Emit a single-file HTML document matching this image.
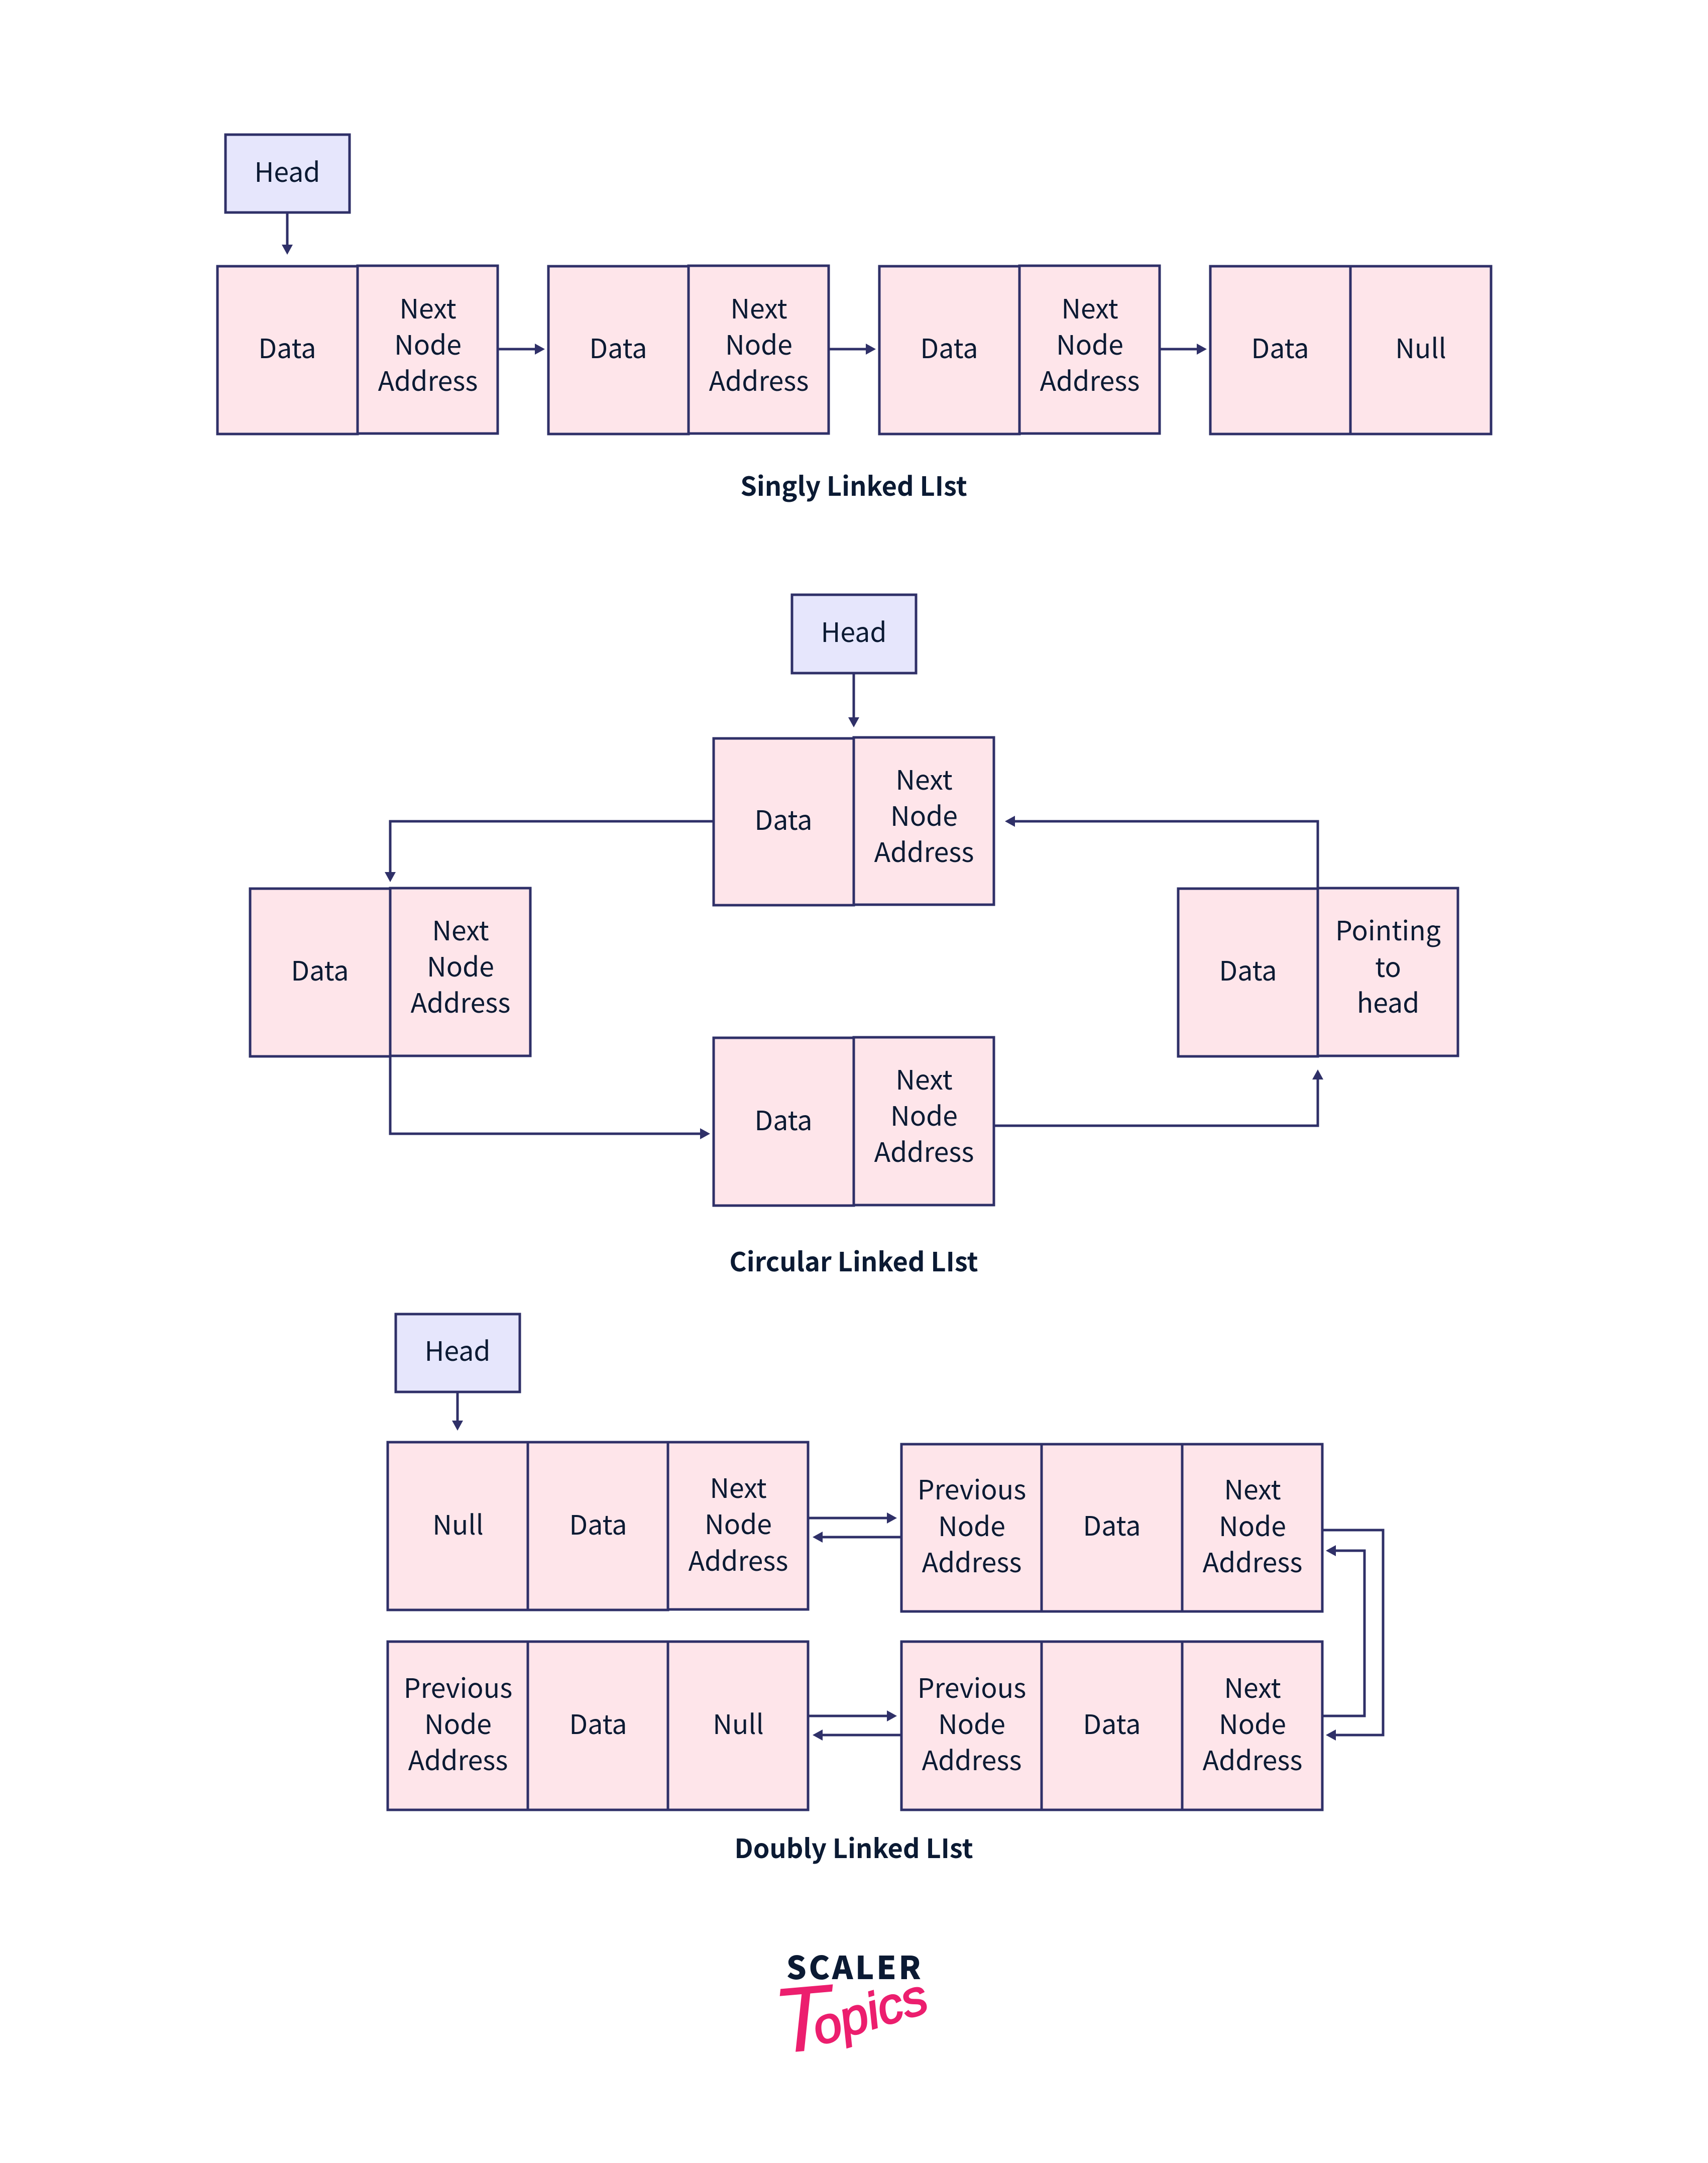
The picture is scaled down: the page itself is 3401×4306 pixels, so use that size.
<!DOCTYPE html>
<html lang="en"><head><meta charset="utf-8"><title>Linked Lists</title>
<style>
html,body{margin:0;padding:0;background:#fff}
svg{display:block}
.c{fill:#FEE5EA;stroke:#2F3068;stroke-width:5}
.h{fill:#E6E6FC;stroke:#2F3068;stroke-width:5}
.l{fill:none;stroke:#2F3068;stroke-width:5}
text{font-family:"Noto Sans CJK JP","Liberation Sans",sans-serif;font-size:53.5px;fill:#0B1A33;text-anchor:middle}
.t{font-weight:700;font-size:52.3px}
</style></head><body>
<svg xmlns="http://www.w3.org/2000/svg" width="3401" height="4306" viewBox="0 0 3401 4306">
<defs><marker id="a" markerUnits="userSpaceOnUse" markerWidth="24" markerHeight="26" refX="0" refY="13" orient="auto"><path d="M0 2L20 13L0 24Z" fill="#2F3068"/></marker></defs>
<rect width="3401" height="4306" fill="#fff"/>

<!-- Singly -->
<rect class="h" x="449" y="268" width="247" height="155"/><text x="572" y="362">Head</text>
<path class="l" d="M572 423V487" marker-end="url(#a)"/>
<rect class="c" x="433" y="530" width="279" height="334"/><rect class="c" x="712" y="529" width="279" height="334"/>
<rect class="c" x="1092" y="530" width="279" height="334"/><rect class="c" x="1371" y="529" width="279" height="334"/>
<rect class="c" x="1751" y="530" width="279" height="334"/><rect class="c" x="2030" y="529" width="279" height="334"/>
<rect class="c" x="2410" y="530" width="279" height="334"/><rect class="c" x="2689" y="530" width="280" height="334"/>
<text x="572" y="713">Data</text><text x="852" y="634">Next</text><text x="852" y="706">Node</text><text x="852" y="778">Address</text>
<text x="1231" y="713">Data</text><text x="1511" y="634">Next</text><text x="1511" y="706">Node</text><text x="1511" y="778">Address</text>
<text x="1890" y="713">Data</text><text x="2170" y="634">Next</text><text x="2170" y="706">Node</text><text x="2170" y="778">Address</text>
<text x="2549" y="713">Data</text><text x="2829" y="713">Null</text>
<path class="l" d="M992 695H1065" marker-end="url(#a)"/><path class="l" d="M1651 695H1724" marker-end="url(#a)"/><path class="l" d="M2310 695H2383" marker-end="url(#a)"/>
<text class="t" x="1700" y="987">Singly Linked LIst</text>

<!-- Circular -->
<rect class="h" x="1577" y="1184" width="247" height="156"/><text x="1700" y="1278">Head</text>
<path class="l" d="M1700 1340V1428" marker-end="url(#a)"/>
<path class="l" d="M1420 1635H777V1736" marker-end="url(#a)"/>
<path class="l" d="M2624 1769V1635H2021" marker-end="url(#a)"/>
<path class="l" d="M777 2104V2257H1394" marker-end="url(#a)"/>
<path class="l" d="M1980 2241H2624V2149" marker-end="url(#a)"/>
<rect class="c" x="1421" y="1470" width="279" height="332"/><rect class="c" x="1700" y="1468" width="279" height="333"/>
<text x="1560" y="1652">Data</text><text x="1840" y="1572">Next</text><text x="1840" y="1644">Node</text><text x="1840" y="1716">Address</text>
<rect class="c" x="498" y="1769" width="279" height="334"/><rect class="c" x="777" y="1768" width="279" height="334"/>
<text x="637" y="1952">Data</text><text x="917" y="1872">Next</text><text x="917" y="1944">Node</text><text x="917" y="2016">Address</text>
<rect class="c" x="2346" y="1769" width="278" height="334"/><rect class="c" x="2624" y="1768" width="279" height="334"/>
<text x="2485" y="1952">Data</text><text x="2764" y="1872">Pointing</text><text x="2764" y="1945">to</text><text x="2764" y="2016">head</text>
<rect class="c" x="1421" y="2066" width="279" height="334"/><rect class="c" x="1700" y="2065" width="279" height="334"/>
<text x="1560" y="2250">Data</text><text x="1840" y="2169">Next</text><text x="1840" y="2241">Node</text><text x="1840" y="2313">Address</text>
<text class="t" x="1700" y="2531">Circular Linked LIst</text>

<!-- Doubly -->
<rect class="h" x="788" y="2616" width="247" height="155"/><text x="911" y="2709">Head</text>
<path class="l" d="M911 2771V2828" marker-end="url(#a)"/>
<rect class="c" x="772" y="2871" width="279" height="334"/><rect class="c" x="1051" y="2871" width="279" height="334"/><rect class="c" x="1330" y="2871" width="279" height="333"/>
<text x="912" y="3055">Null</text><text x="1191" y="3055">Data</text><text x="1470" y="2982">Next</text><text x="1470" y="3054">Node</text><text x="1470" y="3127">Address</text>
<rect class="c" x="1795" y="2875" width="279" height="333"/><rect class="c" x="2074" y="2875" width="280" height="333"/><rect class="c" x="2354" y="2875" width="279" height="333"/>
<text x="1935" y="2985">Previous</text><text x="1935" y="3058">Node</text><text x="1935" y="3130">Address</text><text x="2214" y="3057">Data</text><text x="2494" y="2985">Next</text><text x="2494" y="3058">Node</text><text x="2494" y="3130">Address</text>
<rect class="c" x="772" y="3268" width="279" height="335"/><rect class="c" x="1051" y="3268" width="279" height="335"/><rect class="c" x="1330" y="3268" width="279" height="335"/>
<text x="912" y="3380">Previous</text><text x="912" y="3452">Node</text><text x="912" y="3524">Address</text><text x="1191" y="3452">Data</text><text x="1470" y="3452">Null</text>
<rect class="c" x="1795" y="3268" width="279" height="335"/><rect class="c" x="2074" y="3268" width="280" height="335"/><rect class="c" x="2354" y="3268" width="279" height="335"/>
<text x="1935" y="3380">Previous</text><text x="1935" y="3452">Node</text><text x="1935" y="3524">Address</text><text x="2214" y="3452">Data</text><text x="2494" y="3380">Next</text><text x="2494" y="3452">Node</text><text x="2494" y="3524">Address</text>
<path class="l" d="M1609 3022H1766" marker-end="url(#a)"/><path class="l" d="M1795 3060H1638" marker-end="url(#a)"/>
<path class="l" d="M1609 3416H1766" marker-end="url(#a)"/><path class="l" d="M1795 3454H1638" marker-end="url(#a)"/>
<path class="l" d="M2633 3046H2754V3454H2660" marker-end="url(#a)"/>
<path class="l" d="M2633 3416H2717V3087H2660" marker-end="url(#a)"/>
<text class="t" x="1700" y="3699">Doubly Linked LIst</text>

<!-- Logo -->
<text x="1702" y="3940" style="font-size:63px;font-weight:900;letter-spacing:4.5px">SCALER</text>
<text transform="translate(1546 4088) rotate(-5)" style="font-family:'Liberation Sans',sans-serif;font-style:italic;font-size:185px;text-anchor:start;fill:#EC1E6E">T</text>
<text transform="translate(1630 4072) rotate(-17)" style="font-family:'Liberation Sans',sans-serif;font-style:italic;font-size:100px;text-anchor:start;fill:#EC1E6E;stroke:#EC1E6E;stroke-width:3">opics</text>
</svg>
</body></html>
